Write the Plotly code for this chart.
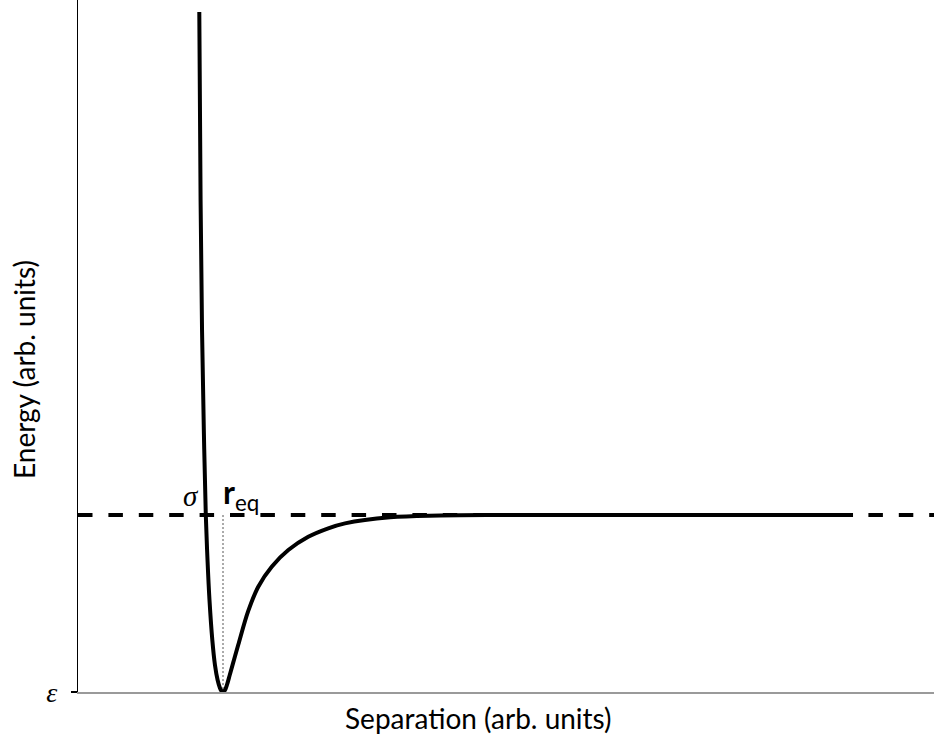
import plotly.graph_objects as go

# Interatomic potential curve (arbitrary units): separation vs. energy
separation = [1.417, 1.432, 1.449, 1.470, 1.493, 1.513, 1.536, 1.569, 1.600,
              1.631, 1.658, 1.676, 1.694, 1.715, 1.741, 1.776, 1.822, 1.873,
              1.989, 2.106, 2.263, 2.457, 2.690, 2.924, 3.119, 3.645, 4.229,
              4.930, 9.054]
energy = [2.842, 1.780, 1.045, 0.480, 0.000, -0.254, -0.480, -0.706, -0.847,
          -0.932, -0.977, -0.994, -1.000, -0.991, -0.958, -0.898, -0.819, -0.732,
          -0.542, -0.405, -0.292, -0.198, -0.123, -0.075, -0.047, -0.013, -0.003,
          0.000, 0.000]

# Reference levels
zero_level = [0.0, 0.0]
zero_span = [0.0, 10.0]
well_depth = -1.0
r_eq = 1.694
sigma_r = 1.493

x_range = [0.0, 10.0]
y_range = [-1.0, 2.91]

fig = go.Figure()

# zero-energy dashed line
fig.add_trace(go.Scatter(
    x=zero_span, y=zero_level, mode="lines",
    line=dict(color="black", width=4, dash="14.5px,15.9px"),
    hoverinfo="skip", showlegend=False))

# dotted marker at the equilibrium separation
fig.add_trace(go.Scatter(
    x=[r_eq, r_eq], y=[0.0, well_depth], mode="lines",
    line=dict(color="#555555", width=1, dash="2px,2px"),
    hoverinfo="skip", showlegend=False))

# potential curve
fig.add_trace(go.Scatter(
    x=separation, y=energy, mode="lines",
    line=dict(color="black", width=4, shape="spline", smoothing=1.0),
    hoverinfo="skip", showlegend=False))

fig.add_annotation(x=sigma_r, y=0.0, xref="x", yref="y", text="σ",
                   showarrow=False, xanchor="right", yanchor="bottom",
                   xshift=-5, yshift=1,
                   font=dict(family="Liberation Serif", size=29, style="italic", color="black"))
fig.add_annotation(x=r_eq, y=0.0, xref="x", yref="y",
                   text="<b>r</b><sub>eq</sub>",
                   showarrow=False, xanchor="left", yanchor="bottom",
                   xshift=-2, yshift=-3,
                   font=dict(family="Lato", size=32, color="black"))

fig.add_annotation(x=24, y=370, xref="paper", yref="paper",
                   text="Energy (arb. units)", textangle=-90,
                   showarrow=False, xanchor="center", yanchor="middle",
                   font=dict(family="Lato", size=28, color="black"))
fig.add_annotation(x=478, y=718, xref="paper", yref="paper",
                   text="Separation (arb. units)",
                   showarrow=False, xanchor="center", yanchor="middle",
                   font=dict(family="Lato", size=28, color="black"))

# convert pixel-placed annotations to paper coords
W, H = 934, 740
L, R, T, B = 78, 0, 0, 48
pw, ph = W - L - R, H - T - B
for ann in fig.layout.annotations:
    if ann.xref == "paper":
        ann.x = (ann.x - L) / pw
        ann.y = (H - B - ann.y) / ph

fig.update_layout(
    width=W, height=H,
    margin=dict(l=L, r=R, t=T, b=B),
    plot_bgcolor="white", paper_bgcolor="white",
    showlegend=False,
    xaxis=dict(range=x_range, showgrid=False, zeroline=False,
               showticklabels=False, ticks="",
               showline=True, linecolor="#9a9a9a", linewidth=2),
    yaxis=dict(range=y_range, showgrid=False, zeroline=False,
               tickmode="array", tickvals=[well_depth], ticktext=["ε"],
               ticks="outside", ticklen=6, tickwidth=2, tickcolor="black",
               ticklabelstandoff=8,
               tickfont=dict(family="Liberation Serif", size=28, style="italic", color="black"),
               showline=True, linecolor="black", linewidth=1),
)

fig.write_html("out.html")
